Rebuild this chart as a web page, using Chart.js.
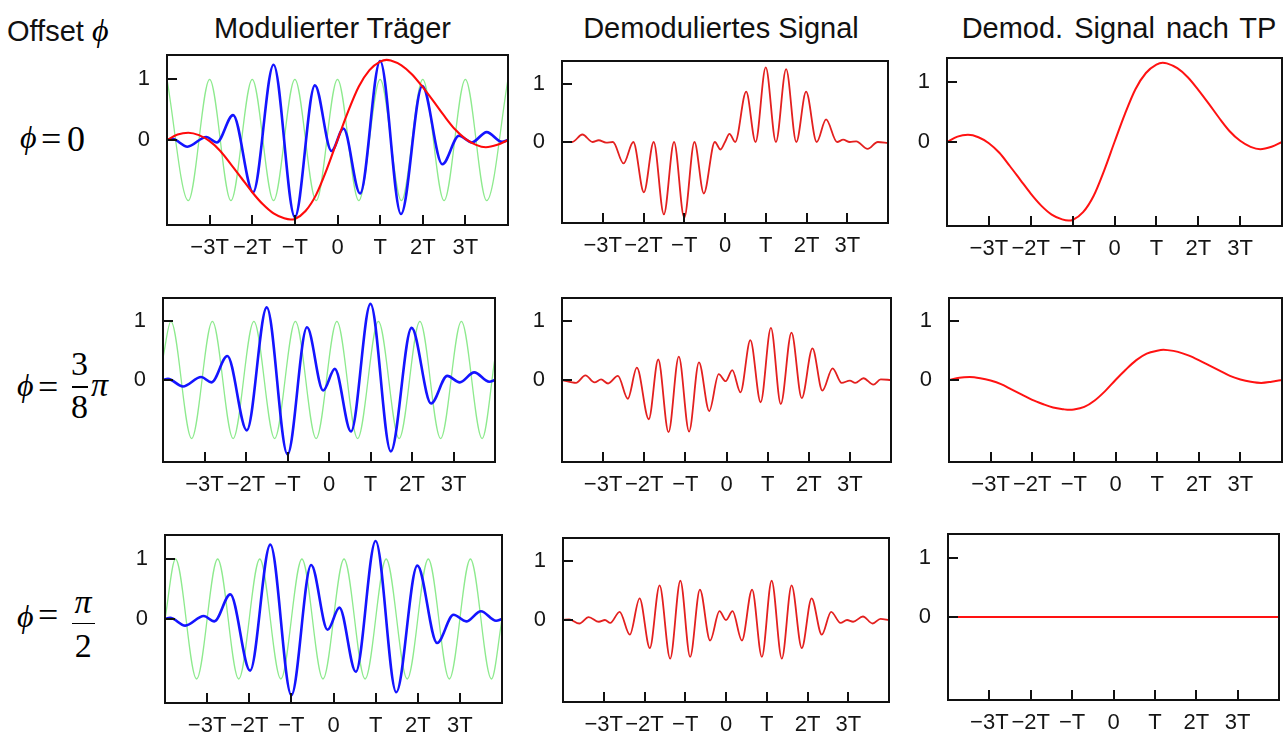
<!DOCTYPE html>
<html><head><meta charset="utf-8">
<script src="https://cdn.jsdelivr.net/npm/chart.js@4"></script>
<style>
html,body{margin:0;padding:0;background:#fff;width:1283px;height:733px;overflow:hidden;position:relative;}
.t{position:absolute;font-family:"Liberation Sans",Arial,sans-serif;font-size:29px;color:#111;white-space:nowrap;line-height:1;}
.c{transform:translateX(-50%);}
.m{position:absolute;font-family:"Liberation Serif","Times New Roman",serif;color:#000;line-height:1;white-space:nowrap;}
.i{font-style:italic;}
.bar{position:absolute;height:1.6px;background:#000;}
canvas{position:absolute;}
</style></head><body>

<div class="t" style="left:7px;top:13.5px;">Offset <span class="m i" style="position:static;font-size:32px;">ϕ</span></div>
<div class="t c" style="left:332.5px;top:13.5px;">Modulierter Träger</div>
<div class="t c" style="left:721px;top:13.5px;">Demoduliertes Signal</div>
<div class="t c" style="left:1119px;top:13.5px;word-spacing:3px;">Demod. Signal nach TP</div>

<!-- row labels -->
<div class="m i" style="left:20px;top:121px;font-size:32px;">ϕ</div>
<div class="m" style="left:41px;top:121px;font-size:36px;">=</div>
<div class="m" style="left:67px;top:121px;font-size:36px;">0</div>

<div class="m i" style="left:17px;top:369px;font-size:32px;">ϕ</div>
<div class="m" style="left:38px;top:369px;font-size:36px;">=</div>
<div class="m c" style="left:79.5px;top:346.5px;font-size:34px;">3</div>
<div class="bar" style="left:71.5px;top:386px;width:16px;"></div>
<div class="m c" style="left:79.5px;top:389.5px;font-size:34px;">8</div>
<div class="m i" style="left:91px;top:367.5px;font-size:34px;">π</div>

<div class="m i" style="left:17px;top:600px;font-size:32px;">ϕ</div>
<div class="m" style="left:38px;top:597px;font-size:36px;">=</div>
<div class="m i c" style="left:83px;top:584.5px;font-size:34px;">π</div>
<div class="bar" style="left:71.5px;top:622.5px;width:23.5px;"></div>
<div class="m c" style="left:83.3px;top:628.5px;font-size:34px;">2</div>

<script>
// ---------- axis ticks ----------
const xTickValues = [-3, -2, -1, 0, 1, 2, 3];
const xTickLabels = ['−3T', '−2T', '−T', '0', 'T', '2T', '3T'];
const yTickValues = [0, 1];
const yTickLabels = ['0', '1'];

// ---------- local carrier (green), extrema ----------
const carrierT_phi0 = [-4, -3.5, -3, -2.5, -2, -1.5, -1, -0.5, 0, 0.5, 1, 1.5, 2, 2.5, 3, 3.5, 4];
const carrierV_phi0 = [1, -1, 1, -1, 1, -1, 1, -1, 1, -1, 1, -1, 1, -1, 1, -1, 1];
const carrierT_phi38 = [-4, -3.81, -3.31, -2.81, -2.31, -1.81, -1.31, -0.81, -0.31, 0.19, 0.69, 1.19, 1.69, 2.19, 2.69, 3.19, 3.69, 4];
const carrierV_phi38 = [0.38, 1, -1, 1, -1, 1, -1, 1, -1, 1, -1, 1, -1, 1, -1, 1, -1, 0.38];
const carrierT_phi12 = [-4, -3.75, -3.25, -2.75, -2.25, -1.75, -1.25, -0.75, -0.25, 0.25, 0.75, 1.25, 1.75, 2.25, 2.75, 3.25, 3.75, 4];
const carrierV_phi12 = [0, 1, -1, 1, -1, 1, -1, 1, -1, 1, -1, 1, -1, 1, -1, 1, -1, 0];

// ---------- modulated carrier (blue) ----------
const modT = [-4, -3.88, -3.52, -3.08, -2.83, -2.45, -1.98, -1.5, -1.0, -0.53, -0.14, 0.14, 0.53, 1.0, 1.49, 1.99, 2.46, 2.85, 3.15, 3.5, 3.86, 4];
const modV = [0, 0.02, -0.11, 0.05, -0.04, 0.41, -0.86, 1.24, -1.27, 0.90, -0.18, 0.19, -0.88, 1.30, -1.22, 0.89, -0.40, 0.07, -0.04, 0.13, -0.03, 0];

// ---------- baseband / low-pass output (red) ----------
const baseT = [-4, -3.75, -3.5, -3.25, -3.0, -2.75, -2.5, -2.25, -2.0, -1.75, -1.5, -1.25, -1.1, -1.0, -0.75, -0.5, -0.25, 0, 0.25, 0.5, 0.75, 1.0, 1.15, 1.25, 1.5, 1.75, 2.0, 2.25, 2.5, 2.75, 3.0, 3.25, 3.48, 3.75, 4];
const baseV = [0, 0.09, 0.12, 0.08, -0.02, -0.18, -0.40, -0.63, -0.86, -1.06, -1.21, -1.29, -1.31, -1.30, -1.17, -0.90, -0.48, 0, 0.47, 0.88, 1.15, 1.29, 1.32, 1.31, 1.23, 1.08, 0.87, 0.64, 0.40, 0.18, 0.02, -0.08, -0.12, -0.08, 0];
const lp38T = [-4, -3.75, -3.5, -3.25, -3.0, -2.75, -2.5, -2.25, -2.0, -1.75, -1.5, -1.25, -1.1, -1.0, -0.75, -0.5, -0.25, 0, 0.25, 0.5, 0.75, 1.0, 1.15, 1.25, 1.5, 1.75, 2.0, 2.25, 2.5, 2.75, 3.0, 3.25, 3.5, 3.75, 4];
const lp38V = [0, 0.04, 0.05, 0.03, -0.01, -0.07, -0.16, -0.25, -0.34, -0.41, -0.47, -0.50, -0.51, -0.505, -0.46, -0.35, -0.19, 0, 0.18, 0.34, 0.45, 0.50, 0.515, 0.51, 0.48, 0.42, 0.34, 0.25, 0.16, 0.07, 0.01, -0.03, -0.05, -0.03, 0];
const lp12T = [-4, 4];
const lp12V = [0, 0];

// ---------- demodulated signals ----------
const dem0T = [-4, -3.75, -3.5, -3.25, -3.1, -2.92, -2.75, -2.49, -2.25, -1.99, -1.75, -1.5, -1.25, -1.0, -0.75, -0.52, -0.25, -0.11, 0, 0.11, 0.25, 0.52, 0.75, 1.0, 1.25, 1.5, 1.75, 1.99, 2.25, 2.48, 2.75, 2.9, 3.06, 3.22, 3.5, 3.75, 4];
const dem0V = [0, 0, 0.13, 0, 0.03, -0.01, 0, -0.37, 0, -0.87, 0, -1.25, 0, -1.31, 0, -0.89, 0, -0.13, 0, 0.14, 0, 0.87, 0, 1.29, 0, 1.26, 0, 0.87, 0, 0.39, 0, 0.04, 0, 0.01, -0.12, 0, -0.02];
const dem38T = [-4, -3.66, -3.43, -3.21, -3.05, -2.88, -2.64, -2.40, -2.18, -1.89, -1.66, -1.41, -1.16, -0.91, -0.67, -0.42, -0.19, -0.02, 0.14, 0.34, 0.58, 0.83, 1.08, 1.32, 1.58, 1.83, 2.09, 2.33, 2.58, 2.80, 3.0, 3.13, 3.33, 3.57, 3.75, 4];
const dem38V = [0, -0.05, 0.08, -0.04, 0.01, -0.06, 0.07, -0.32, 0.21, -0.67, 0.35, -0.89, 0.40, -0.88, 0.30, -0.53, 0.10, -0.02, 0.17, -0.21, 0.68, -0.38, 0.89, -0.41, 0.81, -0.31, 0.54, -0.18, 0.20, -0.05, -0.01, -0.05, 0.03, -0.08, 0.01, 0];
const dem12T = [-4, -3.85, -3.6, -3.37, -3.12, -2.97, -2.84, -2.61, -2.36, -2.12, -1.87, -1.63, -1.37, -1.12, -0.88, -0.64, -0.39, -0.16, 0, 0.16, 0.39, 0.64, 0.88, 1.12, 1.37, 1.61, 1.86, 2.10, 2.35, 2.58, 2.81, 2.97, 3.12, 3.36, 3.6, 3.79, 4];
const dem12V = [0, 0.01, -0.06, 0.05, -0.03, 0, -0.05, 0.14, -0.25, 0.37, -0.48, 0.59, -0.66, 0.67, -0.63, 0.52, -0.35, 0.15, 0, 0.15, -0.35, 0.52, -0.63, 0.67, -0.66, 0.59, -0.48, 0.37, -0.25, 0.14, -0.05, 0, -0.03, 0.06, -0.06, 0.02, 0];

// ---------- drawing ----------
const pts = (ts, vs) => ts.map((t, i) => ({ x: t, y: vs[i] }));
const GREEN = { borderColor: '#8eea8e', borderWidth: 1.3, order: 3 };
const BLUE = { borderColor: '#1414ff', borderWidth: 2.6, order: 2 };
const RED1 = { borderColor: '#ff0a0a', borderWidth: 2.1, order: 1 };
const RED2 = { borderColor: '#e3201f', borderWidth: 1.8, order: 1 };
const RED3 = { borderColor: '#ff1212', borderWidth: 2.0, order: 1 };
const ds = (style, ts, vs) => Object.assign({ data: pts(ts, vs), pointRadius: 0, fill: false, cubicInterpolationMode: 'monotone' }, style);

const framePlugin = {
  id: 'frame',
  afterDraw(chart) {
    const { ctx, chartArea: a, scales } = chart;
    ctx.save();
    ctx.strokeStyle = '#111';
    ctx.lineWidth = 2;
    ctx.beginPath();
    xTickValues.forEach(v => {
      const px = Math.round(scales.x.getPixelForValue(v));
      ctx.moveTo(px, a.bottom); ctx.lineTo(px, a.bottom - 10);
    });
    yTickValues.forEach(v => {
      const py = Math.round(scales.y.getPixelForValue(v));
      ctx.moveTo(a.left, py); ctx.lineTo(a.left + 10, py);
    });
    ctx.stroke();
    ctx.strokeRect(a.left, a.top, a.right - a.left, a.bottom - a.top);
    ctx.restore();
  }
};

const tickFont = { family: '"Liberation Sans", Arial, sans-serif', size: 22 };
function makePanel(box, datasets) {
  const [bx, by, bw, bh] = box;
  const padL = 44, padB = 40, padT = 2, padR = 2;
  const cv = document.createElement('canvas');
  const W = bw + padL + padR, H = bh + padT + padB;
  cv.width = W; cv.height = H;
  cv.style.left = (bx - padL) + 'px'; cv.style.top = (by - padT) + 'px';
  cv.style.width = W + 'px'; cv.style.height = H + 'px';
  document.body.appendChild(cv);
  new Chart(cv, {
    type: 'line',
    data: { datasets },
    options: {
      responsive: false, maintainAspectRatio: false, animation: false, devicePixelRatio: 1,
      layout: { padding: { top: padT, right: padR, left: 0, bottom: 0 }, autoPadding: false },
      plugins: { legend: { display: false }, tooltip: { enabled: false } },
      scales: {
        x: {
          type: 'linear', min: -4, max: 4,
          grid: { display: false, drawTicks: false }, border: { display: false },
          afterBuildTicks: s => { s.ticks = xTickValues.map(v => ({ value: v })); },
          afterFit: s => { s.height = padB; s.paddingLeft = 0; s.paddingRight = 0; },
          ticks: { padding: 10, font: tickFont, color: '#151515', maxRotation: 0, autoSkip: false,
                   callback: (v, i) => xTickLabels[i] }
        },
        y: {
          type: 'linear', min: -1.4, max: 1.4,
          grid: { display: false, drawTicks: false }, border: { display: false },
          afterBuildTicks: s => { s.ticks = yTickValues.map(v => ({ value: v })); },
          afterFit: s => { s.width = padL; s.paddingTop = 0; s.paddingBottom = 0; },
          ticks: { padding: 17, font: tickFont, color: '#151515',
                   callback: (v, i) => yTickLabels[i] }
        }
      }
    },
    plugins: [framePlugin]
  });
}

// row 1: phi = 0
makePanel([167, 55, 341, 170], [ds(GREEN, carrierT_phi0, carrierV_phi0), ds(BLUE, modT, modV), ds(RED1, baseT, baseV)]);
makePanel([562, 61, 326, 162], [ds(RED2, dem0T, dem0V)]);
makePanel([947, 58, 335, 168], [ds(RED3, baseT, baseV)]);
// row 2: phi = 3/8 pi
makePanel([163, 298, 332, 164], [ds(GREEN, carrierT_phi38, carrierV_phi38), ds(BLUE, modT, modV)]);
makePanel([562, 298, 329, 164], [ds(RED2, dem38T, dem38V)]);
makePanel([949, 298, 333, 164], [ds(RED3, lp38T, lp38V)]);
// row 3: phi = pi/2
makePanel([165, 535, 337, 168], [ds(GREEN, carrierT_phi12, carrierV_phi12), ds(BLUE, modT, modV)]);
makePanel([563, 538, 326, 164], [ds(RED2, dem12T, dem12V)]);
makePanel([948, 534, 331, 166], [ds(RED3, lp12T, lp12V)]);
</script>
</body></html>
